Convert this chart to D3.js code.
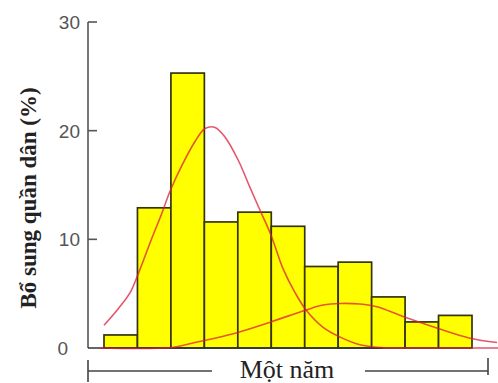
<!DOCTYPE html>
<html>
<head>
<meta charset="utf-8">
<script src="https://cdn.jsdelivr.net/npm/d3@7"></script>
<style>
body { margin: 0; background: #fff; }
</style>
</head>
<body>
<svg width="498" height="383"></svg>
<script>
// bar heights (%) for each bin
var binValues = [1.2, 12.9, 25.3, 11.6, 12.5, 11.2, 7.5, 7.9, 4.7, 2.4, 3.0];
var yTicks = [0, 10, 20, 30];

// fitted curves, x in bin units, y in %
var curveA = [
    [0, 2.1], [0.42, 3.6], [0.78, 5.1], [1.02, 6.8], [1.43, 10.1], [1.73, 12.4],
    [1.97, 14.4], [2.33, 16.8], [2.72, 19.0], [3.02, 20.2], [3.32, 20.3], [3.62, 19.4],
    [4.01, 17.3], [4.36, 14.8], [4.66, 12.7], [4.99, 10.4], [5.35, 7.3], [5.71, 5.1],
    [6.04, 3.5], [6.55, 1.9], [7.06, 1.0], [7.65, 0.3], [8.25, 0.05], [9.45, 0], [11.78, 0]
];
var curveB = [
    [-0.12, 0], [2.03, 0.05], [2.72, 0.5], [3.71, 1.2], [4.07, 1.5], [4.99, 2.4],
    [6.04, 3.5], [6.55, 3.95], [7.06, 4.1], [7.65, 4.05], [8.16, 3.8], [8.94, 2.9],
    [9.99, 1.8], [10.94, 0.9], [11.75, 0.5]
];

var xLabel = "Một năm";
var yLabel = "Bổ sung quần dân (%)";

var svg = d3.select("svg");
var x = d3.scaleLinear().domain([0, binValues.length]).range([104, 472]);
var y = d3.scaleLinear().domain([0, 30]).range([348, 22]);

// bars
svg.selectAll("rect.bar")
    .data(binValues)
    .enter().append("rect")
    .attr("class", "bar")
    .attr("x", function(d, i){ return x(i); })
    .attr("y", function(d){ return y(d); })
    .attr("width", function(d, i){ return x(i + 1) - x(i); })
    .attr("height", function(d){ return y(0) - y(d); })
    .style("fill", "#ffff00")
    .style("stroke", "#35340f")
    .style("stroke-width", 1.7);

// axes
svg.append("line")
    .attr("x1", 88).attr("x2", 88)
    .attr("y1", y(30)).attr("y2", y(0))
    .style("stroke", "#555").style("stroke-width", 1.6);
svg.append("line")
    .attr("x1", 88).attr("x2", 383)
    .attr("y1", y(0)).attr("y2", y(0))
    .style("stroke", "#333").style("stroke-width", 1.6);

svg.selectAll("line.tick")
    .data(yTicks.slice(1))
    .enter().append("line")
    .attr("class", "tick")
    .attr("x1", 88).attr("x2", 97)
    .attr("y1", function(d){ return y(d); })
    .attr("y2", function(d){ return y(d); })
    .style("stroke", "#555").style("stroke-width", 1.6);

svg.selectAll("text.tick")
    .data(yTicks)
    .enter().append("text")
    .attr("class", "tick")
    .attr("x", function(d){ return d === 0 ? 68 : 80; })
    .attr("y", function(d){ return y(d); })
    .attr("dy", "0.36em")
    .attr("text-anchor", "end")
    .style("font-family", "Liberation Sans, Arial, sans-serif")
    .style("font-size", "19px")
    .style("fill", "#555")
    .text(function(d){ return d; });

// curves
var line = d3.line()
    .x(function(d){ return x(d[0]); })
    .y(function(d){ return y(d[1]); })
    .curve(d3.curveCatmullRom);

[curveA, curveB].forEach(function(c){
    svg.append("path")
        .attr("d", line(c))
        .style("fill", "none")
        .style("stroke", "rgb(220,30,60)")
        .style("stroke-opacity", 0.75)
        .style("stroke-width", 1.6);
});

// bracket under the axis
svg.append("path")
    .attr("d", "M88,360V382M88,371H212M365,371H488M488,358V375")
    .style("fill", "none")
    .style("stroke", "#444")
    .style("stroke-width", 1.6);

svg.append("text")
    .attr("x", 287)
    .attr("y", 378)
    .attr("text-anchor", "middle")
    .style("font-family", "Liberation Serif, Times New Roman, serif")
    .style("font-size", "26px")
    .style("fill", "#222")
    .text(xLabel);

svg.append("text")
    .attr("transform", "translate(36,198) rotate(-90)")
    .attr("text-anchor", "middle")
    .style("font-family", "Liberation Serif, Times New Roman, serif")
    .style("font-weight", "bold")
    .style("font-size", "23px")
    .style("fill", "#222")
    .text(yLabel);
</script>
</body>
</html>
